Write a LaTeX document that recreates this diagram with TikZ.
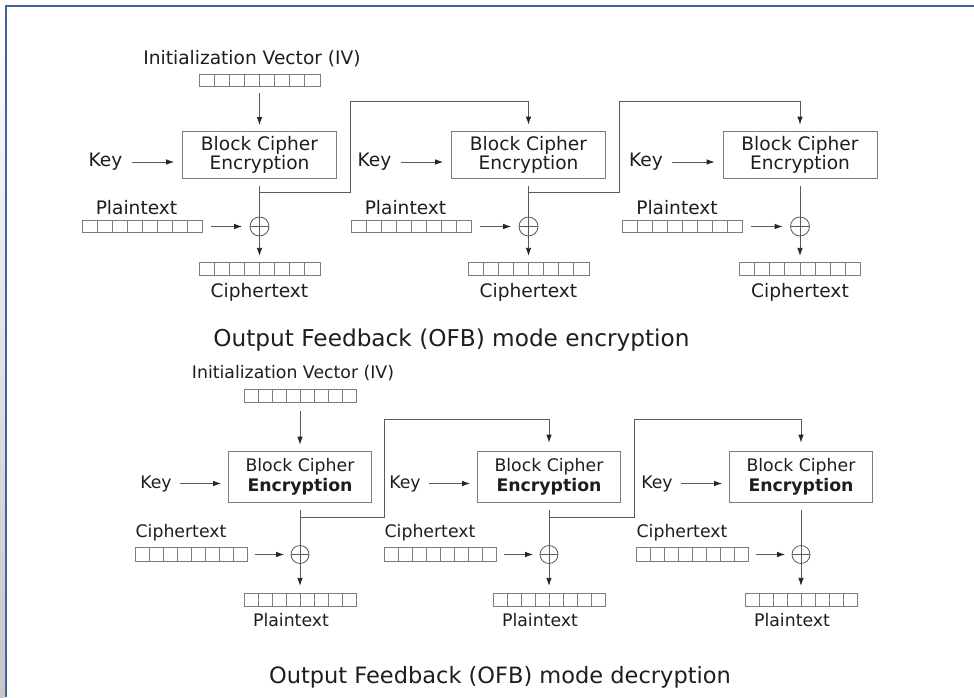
\documentclass[tikz,border=0pt]{standalone}
\usepackage{fontspec}
\setmainfont{DejaVu Sans}
\usetikzlibrary{arrows.meta,calc}
\definecolor{frameblue}{RGB}{68,100,148}
\definecolor{ln}{RGB}{90,90,90}
\definecolor{txt}{RGB}{30,30,30}
\definecolor{rg}{RGB}{125,125,125}
\tikzset{
  tA/.style={font=\fontsize{18.6}{20}\selectfont, text=txt, inner sep=0pt},
  tB/.style={font=\fontsize{17.3}{19}\selectfont, text=txt, inner sep=0pt},
  ttl/.style={text=txt, inner sep=0pt},
  regbase/.style={draw=rg, line width=0.8pt, inner sep=0pt,
    path picture={\foreach \k in {1,...,7}{\draw[rg, line width=0.8pt]
      ($(path picture bounding box.north west)!\k/8!(path picture bounding box.north east)$) --
      ($(path picture bounding box.south west)!\k/8!(path picture bounding box.south east)$);}}},
  regA/.style={regbase, minimum width=121pt, minimum height=12.5pt},
  regB/.style={regbase, minimum width=112pt, minimum height=13.5pt},
  boxA/.style={draw=rg, line width=0.8pt, minimum width=154pt, minimum height=47pt, align=center,
    font=\fontsize{18.6}{18}\selectfont, text=txt, inner sep=0pt},
  boxB/.style={draw=rg, line width=0.8pt, minimum width=143pt, minimum height=51pt, align=center,
    font=\fontsize{17.3}{20}\selectfont, text=txt, inner sep=0pt},
  xorA/.style={circle, draw=ln, line width=0.8pt, minimum size=19pt, inner sep=0pt},
  xorB/.style={circle, draw=ln, line width=0.8pt, minimum size=18pt, inner sep=0pt},
  wire/.style={draw=ln, line width=0.8pt},
  arr/.style={draw=ln, line width=0.8pt, -{Latex[length=8pt,width=5.5pt,color=black!85]}},
}
\begin{document}
\begin{tikzpicture}[x=1pt,y=-1pt]
\useasboundingbox (0,0) rectangle (974,697);
\fill[white] (0,0) rectangle (974,697);
\shade[top color=white, bottom color=black!22] (0,0) rectangle (4.6,697);
\draw[frameblue, line width=2pt] (5.6,697) -- (5.6,6.2) -- (974,6.2);

% ---------------- encryption ----------------
\node[tA] (eiv) at (252,59) {Initialization Vector (IV)};
\node[regA] (eivr) at (259.5,80.5) {};
\foreach \i/\c in {1/259.5, 2/528.5, 3/800}{
  \node[boxA] (eb\i) at (\c,154.5) {Block Cipher\\Encryption};
  \node[tA] (ek\i) at (\c-154,162) {Key};
  \node[tA] (ept\i) at (\c-123,208) {Plaintext};
  \node[regA, minimum width=120pt] (epr\i) at (\c-117.5,226.5) {};
  \node[xorA] (ex\i) at (\c,226.5) {};
  \node[regA] (eo\i) at (\c,269) {};
  \node[tA] (ec\i) at (\c,292.5) {Ciphertext};
  \draw[wire] (ex\i.west) -- (ex\i.east);
  \draw[arr, shorten <=9pt, shorten >=8pt] (ek\i.east) -- (ek\i.east -| eb\i.west);
  \draw[arr, shorten <=8.5pt, shorten >=7.5pt] (epr\i.east) -- (ex\i.west);
  \draw[arr, shorten <=8pt, shorten >=6.5pt] (eb\i.south) -- (eo\i.north);
}
\draw[arr, shorten <=6pt, shorten >=5.5pt] (eivr.south) -- (eb1.north);
\coordinate (ebr1) at (259.5,192);
\coordinate (eft1) at (350.5,101);
\coordinate (ebr2) at (528.5,192);
\coordinate (eft2) at (619.5,101);
\draw[arr, shorten >=6pt] (ebr1) -| (eft1) -| (eb2.north);
\draw[arr, shorten >=6pt] (ebr2) -| (eft2) -| (eb3.north);

\node[ttl, font=\fontsize{23.2}{25}\selectfont] (t1) at (451.5,340) {Output Feedback (OFB) mode encryption};

% ---------------- decryption ----------------
\node[tB] (div) at (293,373) {Initialization Vector (IV)};
\node[regB] (divr) at (300,396) {};
\foreach \i/\c in {1/300, 2/549, 3/801}{
  \node[boxB] (db\i) at (\c,476.5) {Block Cipher\\\textbf{Encryption}};
  \node[tB] (dk\i) at (\c-144,483.5) {Key};
  \node[tB] (dct\i) at (\c-119,533) {Ciphertext};
  \node[regB] (dcr\i) at (\c-109,554.5) {};
  \node[xorB] (dx\i) at (\c,554.5) {};
  \node[regB] (do\i) at (\c,600) {};
  \node[tB] (dp\i) at (\c-9,620) {Plaintext};
  \draw[wire] (dx\i.west) -- (dx\i.east);
  \draw[arr, shorten <=8pt, shorten >=7pt] (dk\i.east) -- (dk\i.east -| db\i.west);
  \draw[arr, shorten <=7.5pt, shorten >=6.5pt] (dcr\i.east) -- (dx\i.west);
  \draw[arr, shorten <=7.5pt, shorten >=7pt] (db\i.south) -- (do\i.north);
}
\draw[arr, shorten <=8pt, shorten >=6pt] (divr.south) -- (db1.north);
\coordinate (dbr1) at (300,517.5);
\coordinate (dft1) at (384.5,419);
\coordinate (dbr2) at (549,517.5);
\coordinate (dft2) at (634,419);
\draw[arr, shorten >=8pt] (dbr1) -| (dft1) -| (db2.north);
\draw[arr, shorten >=8pt] (dbr2) -| (dft2) -| (db3.north);

\node[ttl, font=\fontsize{22.5}{24}\selectfont] (t2) at (500,677) {Output Feedback (OFB) mode decryption};
\end{tikzpicture}
\end{document}
